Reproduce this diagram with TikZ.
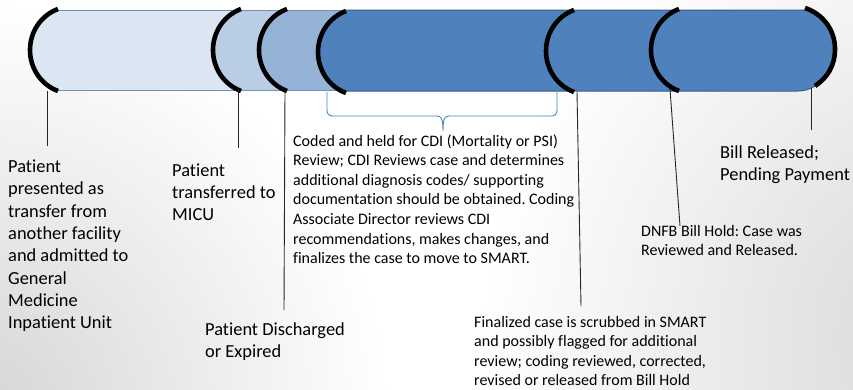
\documentclass[tikz,border=0pt]{standalone}
\usepackage{fontspec}
\setmainfont{Carlito}[Ligatures=NoCommon]
\frenchspacing
\definecolor{barA}{HTML}{DCE6F2}
\definecolor{barB}{HTML}{B9CDE5}
\definecolor{barC}{HTML}{95B3D7}
\definecolor{barD}{HTML}{4F81BD}
\definecolor{edgeL}{HTML}{6A90C4}
\definecolor{edgeD}{HTML}{385D8A}
\definecolor{braceblue}{HTML}{4F81BD}
\tikzset{
  lbrk/.pic={\draw[line width=4.6pt,black] (28,-41) .. controls (11,-34.7) and (0,-18.3) .. (0,0) .. controls (0,18.3) and (11,34.7) .. (28,41);},
}
\begin{document}
\begin{tikzpicture}[x=1pt,y=-1pt,
  bigtxt/.style={anchor=base west, inner sep=0pt, font=\fontsize{18.4}{22.3}\selectfont},
  smalltxt/.style={anchor=base west, inner sep=0pt, font=\fontsize{16}{19.6}\selectfont},
  lead/.style={draw=black!85, line width=0.9pt},
  brk/.style={line width=4.6pt, black},
  lightedge/.style={draw=edgeL, line width=0.8pt},
  darkbar/.style={draw=edgeD, line width=1pt, fill=barD},
  bracebox/.style={draw=braceblue, line width=0.9pt}]
\useasboundingbox (0,0) rectangle (853,389);
% slide background shading
\begin{scope}
  \clip (0,0) rectangle (853,389);
  \fill[white] (0,0) rectangle (853,389);
  \shade[inner color=black!17, outer color=white] (-30,420) circle (420);
  \shade[inner color=black!16, outer color=white] (960,340) circle (480);
\end{scope}
% bars (right ends hidden under the dark bar)
\fill[barA] (58,90) .. controls (41,83.8) and (30,67.9) .. (30,50) .. controls (30,32.1) and (41,16.2) .. (58,10) -- (400,10) -- (400,90) -- cycle;
\draw[lightedge] (58,10) -- (400,10) (58,90) -- (400,90);
\pic at (30,50) {lbrk};
\fill[barB] (241,90) .. controls (224,83.8) and (213,67.9) .. (213,50) .. controls (213,32.1) and (224,16.2) .. (241,10) -- (400,10) -- (400,90) -- cycle;
\draw[lightedge] (241,10) -- (400,10) (241,90) -- (400,90);
\pic at (213,50) {lbrk};
\fill[barC] (287,90) .. controls (270,83.8) and (259,67.9) .. (259,50) .. controls (259,32.1) and (270,16.2) .. (287,10) -- (400,10) -- (400,90) -- cycle;
\draw[lightedge] (287,10) -- (400,10) (287,90) -- (400,90);
\pic at (259,50) {lbrk};
\path[darkbar] (346,91) .. controls (329,84.8) and (318,68.9) .. (318,51) .. controls (318,33.1) and (329,17.2) .. (346,10) -- (805,10) .. controls (823,15) and (835,31) .. (835,50) .. controls (835,66) and (827,80) .. (815,86) .. controls (810,89) and (805,91) .. (798,91) -- cycle;
\pic at (318,52) {lbrk};
\pic at (546,51) {lbrk};
\pic at (651,50) {lbrk};
\draw[brk] (805,8) .. controls (823,14) and (835,30) .. (835,49) .. controls (835,66) and (827,78) .. (815,86);
% brace
\draw[bracebox] (327,92) -- (327,110) .. controls (327,114) and (329,116) .. (333,116) -- (437,116) .. controls (441,116) and (443,118) .. (443,131) .. controls (443,118) and (445,116) .. (449,116) -- (551,116) .. controls (555,116) and (557,114) .. (557,110) -- (557,92);
% texts
\node[bigtxt] (t1) at (8,172.5) {\begin{tabular}[t]{@{}l@{}}Patient\\presented as\\transfer from\\another facility\\and admitted to\\General\\Medicine\\Inpatient Unit\end{tabular}};
\node[bigtxt] (t2) at (172,176) {\begin{tabular}[t]{@{}l@{}}Patient\\transferred to\\MICU\end{tabular}};
\node[bigtxt] (t3) at (205,335) {\begin{tabular}[t]{@{}l@{}}Patient Discharged\\or Expired\end{tabular}};
\node[bigtxt] (t4) at (720,158.5) {\begin{tabular}[t]{@{}l@{}}Bill Released;\\Pending Payment\end{tabular}};
\node[smalltxt] (t5) at (293,146) {\begin{tabular}[t]{@{}l@{}}Coded and held for CDI (Mortality or PSI)\\Review; CDI Reviews case and determines\\additional diagnosis codes/ supporting\\documentation should be obtained. Coding\\Associate Director reviews CDI\\recommendations, makes changes, and\\finalizes the case to move to SMART.\end{tabular}};
\node[smalltxt] (t6) at (641,236) {\begin{tabular}[t]{@{}l@{}}DNFB Bill Hold: Case was\\Reviewed and Released.\end{tabular}};
\node[smalltxt] (t7) at (474,327) {\begin{tabular}[t]{@{}l@{}}Finalized case is scrubbed in SMART\\and possibly flagged for additional\\review; coding reviewed, corrected,\\revised or released from Bill Hold\end{tabular}};
% connectors
\coordinate (p1) at (47,91);  \coordinate (q1) at (47,146);
\coordinate (p2) at (238,90); \coordinate (q2) at (238,148);
\coordinate (p3) at (285,90); \coordinate (q3) at (284,310);
\coordinate (p4) at (577,92); \coordinate (q4) at (581,306);
\coordinate (p5) at (670,89); \coordinate (q5) at (680,226);
\coordinate (p6) at (811,88); \coordinate (q6) at (811,130);
\draw[lead] (p1) -- (q1);
\draw[lead] (p2) -- (q2);
\draw[lead] (p3) -- (q3);
\draw[lead] (p4) -- (q4);
\draw[lead] (p5) -- (q5);
\draw[lead] (p6) -- (q6);
\end{tikzpicture}
\end{document}
